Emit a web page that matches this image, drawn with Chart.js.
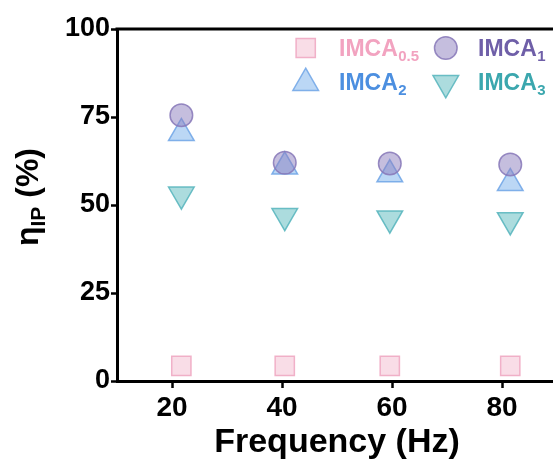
<!DOCTYPE html>
<html><head><meta charset="utf-8">
<script src="https://cdn.jsdelivr.net/npm/chart.js@4/dist/chart.umd.min.js"></script>
<style>
html,body{margin:0;padding:0;overflow:hidden;background:#fff;width:553px;height:466px}
#wrap{position:absolute;left:0;top:0;width:600px;height:466px}
</style>
</head><body><div id="wrap"><canvas id="c" width="600" height="466"></canvas></div>
<script>
// ---- data ----
const frequencies = [21.7, 40.5, 59.6, 81.5];   // measured frequency of each point (Hz)
const xTickLabels = [20, 40, 60, 80];
const yTickLabels = [0, 25, 50, 75, 100];
const imca05 = [4.3, 4.3, 4.3, 4.3];
const imca1  = [75.5, 62.0, 61.8, 61.5];
const imca2  = [70.4, 60.9, 58.7, 56.2];
const imca3  = [53.0, 46.9, 46.2, 45.7];
const seriesNames = ['IMCA', 'IMCA', 'IMCA', 'IMCA'];
const seriesSubs  = ['0.5', '1', '2', '3'];

const FONT = "'Liberation Sans', Arial, Helvetica, sans-serif";

function pts(arr){ return arr.map((v,i)=>({x:frequencies[i], y:v})); }

const styles = [
  {pointStyle:'rect', radius:13.6, rotation:0, bg:'rgba(240,175,198,0.42)', border:'rgba(240,170,195,0.9)', text:'#f2a3c0'},
  {pointStyle:'circle', radius:11.3, rotation:0, bg:'rgba(140,125,190,0.5)', border:'rgba(135,120,185,0.85)', text:'#6f5fa8'},
  {pointStyle:'triangle', radius:14.8, rotation:0, bg:'rgba(120,175,235,0.5)', border:'rgba(110,165,230,0.85)', text:'#4c8fe0'},
  {pointStyle:'triangle', radius:14.8, rotation:180, bg:'rgba(90,185,190,0.5)', border:'rgba(85,180,188,0.85)', text:'#3ba7ae'}
];
const seriesData = [imca05, imca1, imca2, imca3];

const datasets = seriesData.map((d,i)=>({
  label: seriesNames[i] + seriesSubs[i],
  data: pts(d),
  pointStyle: styles[i].pointStyle,
  pointRadius: styles[i].radius,
  pointHoverRadius: styles[i].radius,
  rotation: styles[i].rotation,
  backgroundColor: styles[i].bg,
  borderColor: styles[i].border,
  borderWidth: 1.5,
  showLine: false
}));

const framePlugin = {
  id:'frame',
  afterDraw(chart){
    const {ctx, chartArea:a} = chart;
    ctx.save();
    ctx.strokeStyle = '#000'; ctx.lineWidth = 3;
    ctx.beginPath();
    ctx.moveTo(a.left-1.5, a.top); ctx.lineTo(a.right, a.top); ctx.lineTo(a.right, a.bottom);
    ctx.stroke();
    ctx.restore();
  }
};

const legendPlugin = {
  id:'customLegend',
  afterDatasetsDraw(chart){
    const ctx = chart.ctx;
    const pos = [
      {mx:305.7, my:48, tx:339, ty:56},
      {mx:445.8, my:48, tx:478, ty:56},
      {mx:305.7, my:83, tx:339, ty:90},
      {mx:445.8, my:83, tx:478, ty:90}
    ];
    ctx.save();
    styles.forEach((s,i)=>{
      const p = pos[i];
      ctx.fillStyle = s.bg; ctx.strokeStyle = s.border; ctx.lineWidth = 1.5;
      Chart.helpers.drawPoint(ctx, {pointStyle:s.pointStyle, radius:s.radius, rotation:s.rotation, borderWidth:1.5}, p.mx, p.my);
      ctx.fillStyle = s.text;
      ctx.textBaseline = 'alphabetic'; ctx.textAlign = 'left';
      ctx.font = "bold 23px " + FONT;
      ctx.fillText(seriesNames[i], p.tx, p.ty);
      const w = ctx.measureText(seriesNames[i]).width;
      ctx.font = "bold 15px " + FONT;
      ctx.fillText(seriesSubs[i], p.tx + w + 0.5, p.ty + 5);
    });
    ctx.restore();
  }
};

const yTitlePlugin = {
  id:'yTitle',
  afterDraw(chart){
    const ctx = chart.ctx;
    ctx.save();
    ctx.translate(38, 197);
    ctx.rotate(-Math.PI/2);
    ctx.fillStyle = '#000';
    ctx.textBaseline = 'alphabetic'; ctx.textAlign = 'left';
    const big = "bold 32px " + FONT, small = "bold 21px " + FONT;
    ctx.font = big; const w1 = ctx.measureText('η').width;
    ctx.font = small; const w2 = ctx.measureText('IP').width;
    ctx.font = big; const w3 = ctx.measureText(' (%)').width;
    let x = -(w1+w2+w3)/2;
    ctx.font = big; ctx.fillText('η', x, 0); x += w1;
    ctx.font = small; ctx.fillText('IP', x, 7); x += w2;
    ctx.font = big; ctx.fillText(' (%)', x, 0);
    ctx.restore();
  }
};

new Chart(document.getElementById('c'), {
  type:'scatter',
  data:{datasets},
  options:{
    responsive:false,
    animation:false,
    events:[],
    layout:{padding:{left:0, top:29, right:43, bottom:0}},
    plugins:{legend:{display:false}, tooltip:{enabled:false}},
    scales:{
      x:{
        type:'linear', min:10, max:90,
        afterBuildTicks(s){ s.ticks = xTickLabels.map(v=>({value:v})); },
        afterFit(s){ s.height = 85; },
        ticks:{color:'#000', font:{family:FONT, weight:'bold', size:28}, padding:3, maxRotation:0},
        grid:{display:true, drawOnChartArea:false, drawTicks:true, tickLength:7, tickWidth:2.5, tickColor:'#000'},
        border:{display:true, color:'#000', width:3}
      ,
        title:{display:true, text:'Frequency (Hz)', color:'#000', font:{family:FONT, weight:'bold', size:34, lineHeight:1.0}, padding:{top:0,bottom:6}}
      },
      y:{
        type:'linear', min:0, max:100,
        afterBuildTicks(s){ s.ticks = yTickLabels.map(v=>({value:v})); },
        afterFit(s){ s.width = 117; },
        ticks:{color:'#000', font:{family:FONT, weight:'bold', size:27}, padding:1},
        grid:{display:true, drawOnChartArea:false, drawTicks:true, tickLength:6, tickWidth:2.5, tickColor:'#000'},
        border:{display:true, color:'#000', width:3}
      }
    }
  },
  plugins:[framePlugin, legendPlugin, yTitlePlugin]
});
</script>
</body></html>
